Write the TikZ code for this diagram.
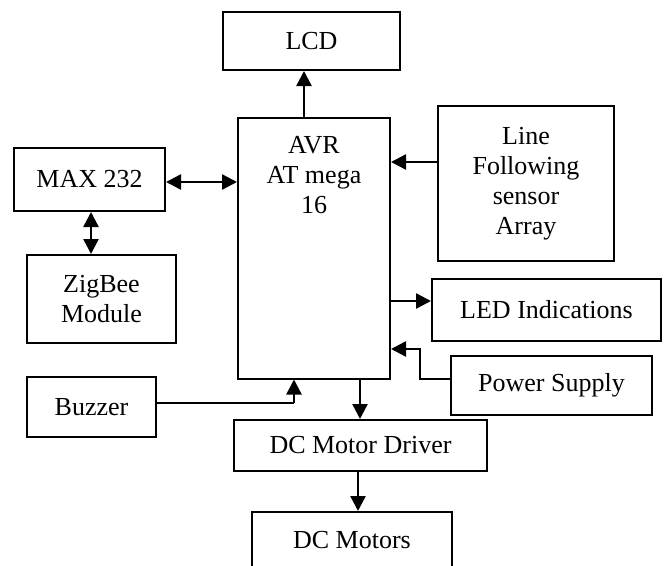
\documentclass[tikz,border=0pt]{standalone}
\usepackage{fontspec}
\setmainfont{Liberation Serif}
\usetikzlibrary{arrows.meta}
\begin{document}
\begin{tikzpicture}[x=1pt,y=-1pt,
  txt/.style={inner sep=0pt, align=center, font=\fontsize{26}{30}\selectfont},
  box/.style={txt, draw, line width=2pt},
  arr/.style={line width=2.4pt, -{Triangle[length=15pt,width=15pt]}},
  darr/.style={line width=2.4pt, {Triangle[length=15pt,width=15pt]}-{Triangle[length=15pt,width=15pt]}},
  thinline/.style={line width=1.4pt}]
\useasboundingbox (0,0) rectangle (664,565);
% boxes
\node[box, minimum width=177pt, minimum height=58pt] (lcd) at (311.5,41) {LCD};
\node[box, minimum width=152pt, minimum height=261pt] (avr) at (314,248) {};
\node[txt, anchor=north] (avrtxt) at (314,136) {AVR\\AT mega\\16};
\node[box, minimum width=151pt, minimum height=63pt] (max) at (89.5,179.5) {MAX 232};
\node[box, minimum width=149pt, minimum height=88pt] (zig) at (101.5,299) {ZigBee\\Module};
\node[box, minimum width=176pt, minimum height=155pt] (line) at (526,183.5) {Line\\Following\\sensor\\Array};
\node[box, minimum width=229pt, minimum height=62pt] (led) at (546.5,310) {LED Indications};
\node[box, minimum width=201pt, minimum height=59pt] (pwr) at (551.5,385.5) {Power Supply};
\node[box, minimum width=129pt, minimum height=60pt] (buz) at (91.5,407) {Buzzer};
\node[box, minimum width=253pt, minimum height=51pt] (drv) at (360.5,445.5) {DC Motor Driver};
\node[box, minimum width=200pt, minimum height=56pt] (mot) at (352,540) {DC Motors};
% guide coordinates
\coordinate (a1) at (304,0);
\coordinate (a2) at (0,182);
\coordinate (a3) at (91,0);
\coordinate (a4) at (0,162);
\coordinate (a5) at (360,0);
\coordinate (a6) at (358,0);
\coordinate (l1) at (0,301);
\coordinate (p1) at (420,379);
\coordinate (p2) at (420,349);
\coordinate (b1) at (294,403);
% connectors
\draw[arr] (avr.north -| a1) -- (lcd.south -| a1);
\draw[darr] (max.east |- a2) -- (avr.west |- a2);
\draw[darr] (max.south -| a3) -- (zig.north -| a3);
\draw[arr] (line.west |- a4) -- (avr.east |- a4);
\draw[arr] (avr.east |- l1) -- (led.west |- l1);
\draw[arr] (pwr.west |- p1) -- (p1) -- (p2) -- (avr.east |- p2);
\draw[thinline] (buz.east |- b1) -- (b1);
\draw[arr] (b1) -- (avr.south -| b1);
\draw[arr] (avr.south -| a5) -- (drv.north -| a5);
\draw[arr] (drv.south -| a6) -- (mot.north -| a6);
\end{tikzpicture}
\end{document}
